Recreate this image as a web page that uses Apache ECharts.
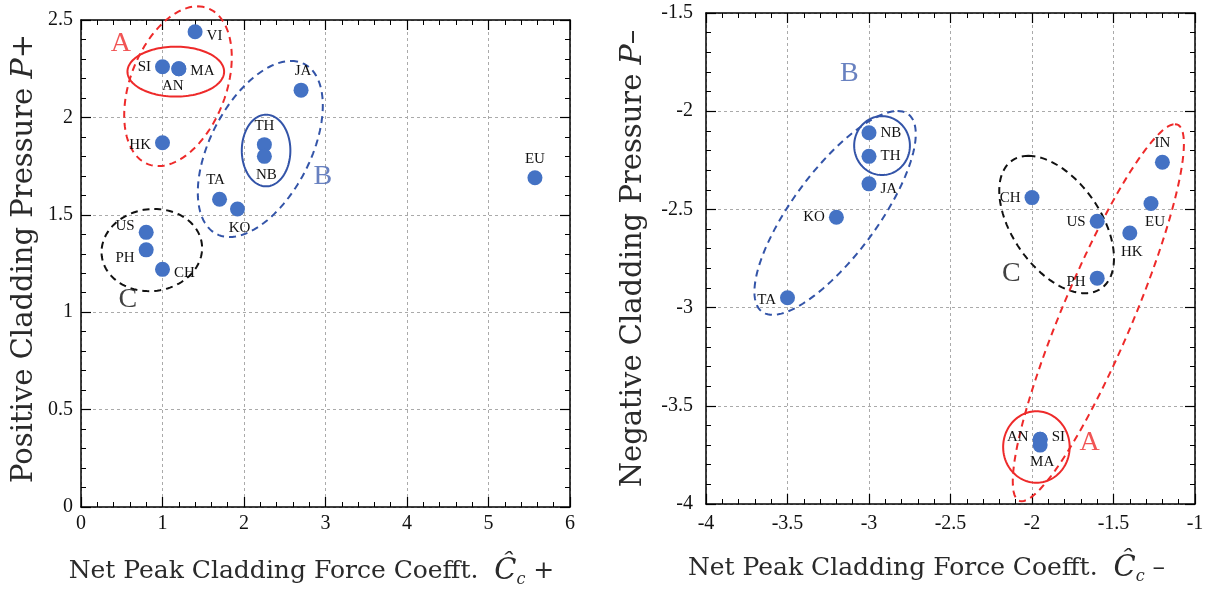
<!DOCTYPE html>
<html><head><meta charset="utf-8">
<script src="https://cdn.jsdelivr.net/npm/echarts@6/dist/echarts.min.js"></script>
<style>html,body{margin:0;padding:0;background:#fff}#c{width:1212px;height:593px}</style>
</head><body><div id="c"></div>
<script>
// ---------- data ----------
const LEFT_NAMES = ['VI','SI','MA','AN','HK','JA','TH','NB','TA','KO','EU','US','PH','CH'];
const LEFT_X     = [1.40,1.00,1.20,1.20,1.00,2.70,2.25,2.25,1.70,1.92,5.57,0.80,0.80,1.00];
const LEFT_Y     = [2.44,2.26,2.25,2.25,1.87,2.14,1.86,1.80,1.58,1.53,1.69,1.41,1.32,1.22];

const RIGHT_NAMES = ['NB','TH','JA','KO','TA','CH','US','HK','EU','IN','PH','AN','SI','MA'];
const RIGHT_X     = [-3.00,-3.00,-3.00,-3.20,-3.50,-2.00,-1.60,-1.40,-1.27,-1.20,-1.60,-1.95,-1.95,-1.95];
const RIGHT_Y     = [-2.11,-2.23,-2.37,-2.54,-2.95,-2.44,-2.56,-2.62,-2.47,-2.26,-2.85,-3.67,-3.67,-3.70];

const GROUP_NAMES = ['A','B','C'];

// ---------- styling / annotation config ----------
const FONT = 'Liberation Serif';
const TFONT = 'DejaVu Serif';
const DOT = '#4472c4';
const RED = '#ee2a2a', BLUE = '#3354a8', BLACK = '#111';
const GROUP_COLORS = {A: RED, B: '#4262b0', C: BLACK};

const LEFT_LABELPOS = {VI:['right',[0,4]],SI:['left',[0,0]],MA:['right',[0,2]],AN:['bottom',[-6,-2]],HK:['left',[0,2]],
  JA:['top',[2,0]],TH:['top',[0,0]],NB:['bottom',[2,0]],TA:['top',[-4,0]],KO:['bottom',[2,0]],EU:['top',[0,0]],
  US:['left',[0,-6]],PH:['left',[0,8]],CH:['right',[0,4]]};
const RIGHT_LABELPOS = {NB:['right',[0,0]],TH:['right',[0,0]],JA:['right',[0,5]],KO:['left',[0,0]],TA:['left',[0,2]],
  CH:['left',[0,0]],US:['left',[0,1]],HK:['bottom',[2,0]],EU:['bottom',[4,0]],IN:['top',[0,0]],PH:['left',[0,4]],
  AN:['left',[0,-2]],SI:['right',[0,-2]],MA:['bottom',[2,-2]]};

// annotation ellipses: center (data), half width h, half height v, top-point shift k (data units)
const LEFT_ELLIPSES = [
  {c:[1.19,2.16], h:0.66, v:0.41, k:0.24, color:RED, dash:true},
  {c:[1.163,2.235], h:0.593, v:0.128, k:0, color:RED, dash:false},
  {c:[2.20,1.838], h:0.767, v:0.452, k:0.378, color:BLUE, dash:true},
  {c:[2.271,1.83], h:0.298, v:0.184, k:0, color:BLUE, dash:false},
  {c:[0.869,1.319], h:0.617, v:0.211, k:0.03, color:BLACK, dash:true}
];
const RIGHT_ELLIPSES = [
  {c:[-3.208,-2.518], h:0.495, v:0.519, k:0.383, color:BLUE, dash:true},
  {c:[-2.92,-2.175], h:0.171, v:0.150, k:0, color:BLUE, dash:false},
  {c:[-1.849,-2.577], h:0.352, v:0.35, k:-0.173, color:BLACK, dash:true},
  {c:[-1.593,-3.026], h:0.525, v:0.96, k:0.47, color:RED, dash:true},
  {c:[-1.973,-3.71], h:0.204, v:0.182, k:0, color:RED, dash:false}
];
const LEFT_GROUP_POS  = [[0.49,2.377],[2.967,1.696],[0.574,1.066]];
const RIGHT_GROUP_POS = [[-1.647,-3.689],[-3.121,-1.808],[-2.126,-2.825]];

function axesFor(grid, xmin, xmax, xint, ymin, ymax, yint, xMargin, yMargin){
  const line = {show:true, onZero:false, lineStyle:{color:'#000', width:1.5}};
  const tick = {show:true, inside:true, length:10, lineStyle:{color:'#000', width:1.2}};
  const minor = {show:true, splitNumber:5, length:5, lineStyle:{color:'#000', width:1}};
  const split = {show:true, lineStyle:{color:'#aaa', type:[3,3], width:1}};
  return {
    x:[
      {gridIndex:grid, type:'value', min:xmin, max:xmax, interval:xint, position:'bottom', axisLine:line, axisTick:tick, minorTick:minor,
        axisLabel:{fontFamily:FONT, fontSize:20, color:'#111', margin:xMargin}, splitLine:split},
      {gridIndex:grid, type:'value', min:xmin, max:xmax, interval:xint, position:'top', axisLine:line, axisTick:tick, minorTick:minor, axisLabel:{show:false}, splitLine:{show:false}}
    ],
    y:[
      {gridIndex:grid, type:'value', min:ymin, max:ymax, interval:yint, position:'left', axisLine:line, axisTick:tick, minorTick:minor,
        axisLabel:{fontFamily:FONT, fontSize:20, color:'#111', margin:yMargin}, splitLine:split},
      {gridIndex:grid, type:'value', min:ymin, max:ymax, interval:yint, position:'right', axisLine:line, axisTick:tick, minorTick:minor, axisLabel:{show:false}, splitLine:{show:false}}
    ]
  };
}
const L = axesFor(0, 0, 6, 1, 0, 2.5, 0.5, 7, 8);
const R = axesFor(1, -4, -1, 0.5, -4, -1.5, 0.5, 10, 13);

const TCOL = '#2a2a2a';
function rich(sz){
  const lh = Math.round(sz*1.3);
  return {
    t:{fontFamily:TFONT, fontSize:sz, color:TCOL, lineHeight:lh, verticalAlign:'middle'},
    i:{fontFamily:TFONT, fontSize:sz+1, fontStyle:'italic', color:TCOL, lineHeight:lh, verticalAlign:'middle'},
    h:{fontFamily:TFONT, fontSize:sz+4, fontStyle:'italic', color:TCOL, lineHeight:lh, verticalAlign:'middle'},
    s:{fontFamily:TFONT, fontSize:16, fontStyle:'italic', color:TCOL, lineHeight:22, verticalAlign:'bottom'}
  };
}
L.x[0].name = '{t|Net Peak Cladding Force Coefft.  }{h|Ĉ}{s|c}{t| +}';
R.x[0].name = '{t|Net Peak Cladding Force Coefft.  }{h|Ĉ}{s|c}{t| –}';
L.y[0].name = '{t|Positive Cladding Pressure }{i|P}{t|+}';
R.y[0].name = '{t|Negative Cladding Pressure }{i|P}{t|–}';
L.x[0].nameTextStyle = {rich:rich(25), padding:[0,28,0,0]};
R.x[0].nameTextStyle = {rich:rich(25), padding:[0,48,0,0]};
[L.x[0], R.x[0]].forEach(a=>{a.nameLocation='middle'; a.nameGap=48;});
L.y[0].nameTextStyle = {rich:rich(29), padding:[0,0,0,10]};
R.y[0].nameTextStyle = {rich:rich(29)};
[L.y[0], R.y[0]].forEach(a=>{a.nameLocation='middle'; a.nameRotate=90;});
L.y[0].nameGap = 38;
R.y[0].nameGap = 54;

function pointData(names, xs, ys, pos){
  return names.map((n,i)=>({
    name:n, value:[xs[i], ys[i]],
    label:{show:true, formatter:n, position:pos[n][0], offset:pos[n][1], distance:4,
      fontFamily:FONT, fontSize:15, color:'#111'}
  }));
}
function ellipseSeries(list, xi, yi){
  return {
    type:'custom', xAxisIndex:xi, yAxisIndex:yi, clip:false, silent:true, z:3,
    data: list.map(e=>[e.c[0], e.c[1]]),
    encode:{x:0, y:1},
    renderItem:function(params, api){
      const e = list[params.dataIndex];
      const w = Math.sqrt(Math.max(e.h*e.h - e.k*e.k, 0));
      const pts = [];
      const N = 120;
      for(let j=0;j<=N;j++){
        const t = j/N*2*Math.PI;
        pts.push(api.coord([e.c[0] + e.k*Math.cos(t) + w*Math.sin(t), e.c[1] + e.v*Math.cos(t)]));
      }
      return {type:'polyline', shape:{points:pts},
        style:{fill:null, stroke:e.color, lineWidth:2, lineDash: e.dash ? [7,5] : null}};
    }
  };
}
function groupSeries(posList, xi, yi){
  return {
    type:'scatter', xAxisIndex:xi, yAxisIndex:yi, symbolSize:1, itemStyle:{color:'rgba(0,0,0,0)'}, silent:true, z:6,
    data: GROUP_NAMES.map((g,i)=>({name:g, value:posList[i],
      label:{show:true, position:'inside', formatter:g, fontFamily:FONT, fontSize:28, color:GROUP_COLORS[g]}}))
  };
}

const option = {
  backgroundColor:'#fff',
  animation:false,
  grid:[
    {left:81, top:20, width:489, height:488},
    {left:706, top:13, width:489, height:491}
  ],
  xAxis:[L.x[0], L.x[1], R.x[0], R.x[1]],
  yAxis:[L.y[0], L.y[1], R.y[0], R.y[1]],
  series:[
    ellipseSeries(LEFT_ELLIPSES, 0, 0),
    ellipseSeries(RIGHT_ELLIPSES, 2, 2),
    {type:'scatter', xAxisIndex:0, yAxisIndex:0, symbolSize:15, itemStyle:{color:DOT, opacity:1}, z:5,
      data:pointData(LEFT_NAMES, LEFT_X, LEFT_Y, LEFT_LABELPOS)},
    {type:'scatter', xAxisIndex:2, yAxisIndex:2, symbolSize:15, itemStyle:{color:DOT, opacity:1}, z:5,
      data:pointData(RIGHT_NAMES, RIGHT_X, RIGHT_Y, RIGHT_LABELPOS)},
    groupSeries(LEFT_GROUP_POS, 0, 0),
    groupSeries(RIGHT_GROUP_POS, 2, 2)
  ]
};
const chart = echarts.init(document.getElementById('c'), null, {renderer:'canvas'});
chart.setOption(option);
</script></body></html>
